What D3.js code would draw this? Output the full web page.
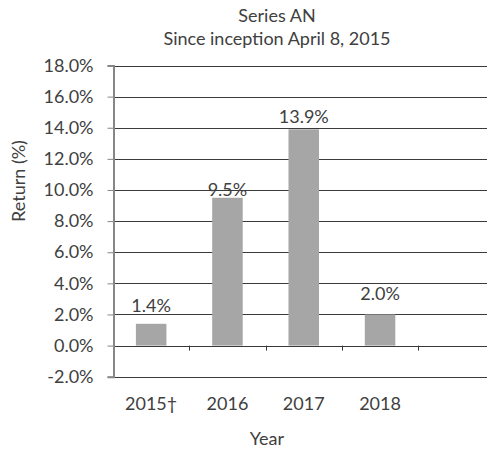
<!DOCTYPE html>
<html>
<head>
<meta charset="utf-8">
<script src="https://cdn.jsdelivr.net/npm/d3@7"></script>
<style>
  body { margin: 0; background: #fff; }
  svg { display: block; font-family: Lato, "Open Sans", sans-serif; }
</style>
</head>
<body>
<svg id="chart" width="487" height="453"></svg>
<script>
var categories = ['2015\u2020', '2016', '2017', '2018', ''];
var returns = [1.4, 9.5, 13.9, 2.0, null];
var yTicks = [-2, 0, 2, 4, 6, 8, 10, 12, 14, 16, 18];
var labelLift = [12, 2, 6, 14, 0];

var svg = d3.select('#chart');
var textColor = '#404040';
var fs = 18;

var x = d3.scaleBand()
    .domain(categories)
    .range([113, 494.5]);

var y = d3.scaleLinear()
    .domain([-2, 18])
    .range([376.7, 65.5]);

// excel style, plain hyphen for negatives
var fmt = function(d) { return d.toFixed(1) + '%'; };

// titles
svg.append('text')
    .attr('x', 277).attr('y', 22)
    .attr('text-anchor', 'middle')
    .attr('font-size', fs).attr('fill', textColor)
    .text('Series AN');
svg.append('text')
    .attr('x', 277).attr('y', 45)
    .attr('text-anchor', 'middle')
    .attr('font-size', fs).attr('fill', textColor)
    .text('Since inception April 8, 2015');

// gridlines
svg.append('g').selectAll('line')
    .data(yTicks)
  .enter().append('line')
    .attr('x1', 113).attr('x2', 494.5)
    .attr('y1', function(d) { return Math.round(y(d)) + 0.5; })
    .attr('y2', function(d) { return Math.round(y(d)) + 0.5; })
    .attr('stroke', '#3a3a3a')
    .attr('stroke-width', 1);

// bars
var bars = categories.map(function(c, i) { return {cat: c, v: returns[i], lift: labelLift[i]}; })
    .filter(function(d) { return d.v != null; });

svg.append('g').selectAll('rect')
    .data(bars)
  .enter().append('rect')
    .attr('x', function(d) { return x(d.cat) + x.bandwidth() * 0.3; })
    .attr('width', x.bandwidth() * 0.4)
    .attr('y', function(d) { return y(d.v); })
    .attr('height', function(d) { return y(0) - y(d.v); })
    .attr('fill', '#a6a6a6');

svg.append('g').selectAll('text')
    .data(bars)
  .enter().append('text')
    .attr('x', function(d) { return x(d.cat) + x.bandwidth() / 2; })
    .attr('y', function(d) { return y(d.v) - d.lift; })
    .attr('text-anchor', 'middle')
    .attr('font-size', fs).attr('fill', textColor)
    .text(function(d) { return fmt(d.v); });

// y axis
var yAxis = d3.axisLeft(y)
    .tickValues(yTicks)
    .tickSize(6)
    .tickPadding(14)
    .tickFormat(fmt);

var gy = svg.append('g')
    .attr('transform', 'translate(113.5,0)')
    .call(yAxis);
gy.select('.domain').attr('stroke', '#868686').attr('stroke-width', 2);
gy.selectAll('.tick line').attr('stroke', '#868686');
gy.selectAll('.tick text')
    .attr('font-size', fs).attr('fill', textColor)
    .attr('font-family', 'Lato, sans-serif');

// x ticks along the zero line, between categories
var bounds = categories.map(function(c) { return x(c); }).concat([x.range()[1]]);
svg.append('g').selectAll('line')
    .data(bounds.slice(1))
  .enter().append('line')
    .attr('x1', function(d) { return Math.round(d) + 0.5; })
    .attr('x2', function(d) { return Math.round(d) + 0.5; })
    .attr('y1', y(0)).attr('y2', y(0) + 5)
    .attr('stroke', '#3a3a3a');

// category labels
svg.append('g').selectAll('text')
    .data(categories)
  .enter().append('text')
    .attr('x', function(d) { return x(d) + x.bandwidth() / 2; })
    .attr('y', 410)
    .attr('text-anchor', 'middle')
    .attr('font-size', fs).attr('fill', textColor)
    .text(function(d) { return d; });

// axis titles
svg.append('text')
    .attr('x', 267).attr('y', 445)
    .attr('text-anchor', 'middle')
    .attr('font-size', fs).attr('fill', textColor)
    .text('Year');
svg.append('text')
    .attr('transform', 'translate(25,181) rotate(-90)')
    .attr('text-anchor', 'middle')
    .attr('font-size', fs).attr('fill', textColor)
    .text('Return (%)');
</script>
</body>
</html>
